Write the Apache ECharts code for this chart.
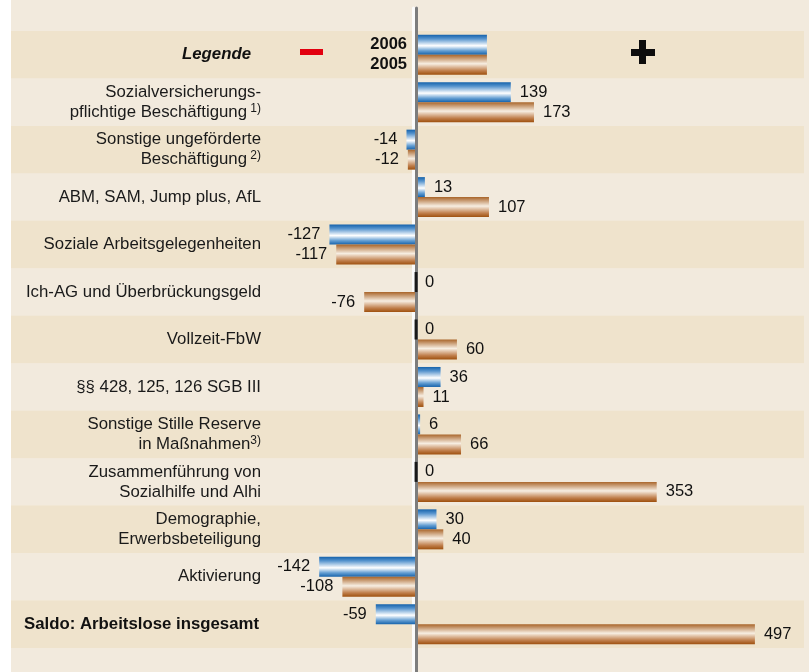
<!DOCTYPE html>
<html>
<head>
<meta charset="utf-8">
<script src="https://cdn.jsdelivr.net/npm/echarts@6/dist/echarts.min.js"></script>
<style>
  html, body { margin: 0; padding: 0; background: #fff; }
  #chart { position: absolute; left: 11px; top: 0; width: 798px; height: 672px; }
</style>
</head>
<body>
<div id="chart"></div>
<script>
// ==============================================================
// data
// ==============================================================
var categories = [
    'Legende',
    'Sozialversicherungs-\npflichtige Beschäftigung',
    'Sonstige ungeförderte\nBeschäftigung',
    'ABM, SAM, Jump plus, AfL',
    'Soziale Arbeitsgelegenheiten',
    'Ich-AG und Überbrückungsgeld',
    'Vollzeit-FbW',
    '§§ 428, 125, 126 SGB III',
    'Sonstige Stille Reserve\nin Maßnahmen',
    'Zusammenführung von\nSozialhilfe und Alhi',
    'Demographie,\nErwerbsbeteiligung',
    'Aktivierung',
    'Saldo: Arbeitslose insgesamt'
];
var footnotes = ['', ' 1)', ' 2)', '', '', '', '', '', '3)', '', '', '', ''];
var seriesNames = ['2006', '2005'];
var values2006 = [139, -14, 13, -127, 0, 0, 36, 6, 0, 30, -142, -59];
var values2005 = [173, -12, 107, -117, -76, 60, 11, 66, 353, 40, -108, 497];
var legendSwatch = 104;   // length of the sample bars in the legend row

var FONT = '"Liberation Sans", Arial, sans-serif';
var xMin = -594, xMax = 569;

var chart = echarts.init(document.getElementById('chart'));

var blueFill = new echarts.graphic.LinearGradient(0, 0, 0, 1, [
    {offset: 0, color: '#1562ab'},
    {offset: 0.2, color: '#5593cd'},
    {offset: 0.55, color: '#ffffff'},
    {offset: 0.8, color: '#659fd3'},
    {offset: 1, color: '#1562ab'}
]);
var copperFill = new echarts.graphic.LinearGradient(0, 0, 0, 1, [
    {offset: 0, color: '#a9652a'},
    {offset: 0.45, color: '#f7eee2'},
    {offset: 0.8, color: '#c07f4c'},
    {offset: 1, color: '#9e500e'}
]);

function barData(vals) {
    var out = [{value: legendSwatch, label: {position: 'left'}}];
    vals.forEach(function (v) {
        out.push({value: v, label: {position: v < 0 ? 'left' : 'right'}});
    });
    return out;
}

// black marks for zero values of 2006
var zeroMarks = [];
values2006.forEach(function (v, i) {
    if (v === 0) zeroMarks.push([0, i + 1]);
});

function valueLabel(p) {
    if (p.dataIndex === 0) return '{b|' + p.seriesName + '}';
    return p.value;
}

var labelStyle = {
    show: true,
    distance: 9,
    fontFamily: FONT,
    fontSize: 16.5,
    color: '#111',
    formatter: valueLabel,
    rich: {
        b: {fontFamily: FONT, fontSize: 16.5, fontWeight: 'bold', color: '#111'}
    }
};

option = {
    backgroundColor: '#f2eadd',
    animation: false,
    grid: [
        {left: 0, right: 5, top: 31, bottom: 24, outerBoundsMode: 'none', containLabel: false},
        {left: 0, right: 5, top: 8, bottom: 0, outerBoundsMode: 'none', containLabel: false},
        {left: 0, right: 5, top: 8, bottom: 0, outerBoundsMode: 'none', containLabel: false}
    ],
    xAxis: [
        {gridIndex: 0, type: 'value', min: xMin, max: xMax, show: false},
        {gridIndex: 1, type: 'value', min: xMin, max: xMax, show: false},
        {gridIndex: 2, type: 'value', min: xMin, max: xMax, show: false}
    ],
    yAxis: [
        {
            gridIndex: 0,
            type: 'category',
            inverse: true,
            position: 'left',
            data: categories,
            axisLine: {show: false, onZero: false},
            axisTick: {show: false},
            splitLine: {show: false},
            splitArea: {show: true, areaStyle: {color: ['#efe3cc', '#f2eadd']}},
            axisLabel: {
                inside: true,
                margin: 250,
                fontFamily: FONT,
                fontSize: 16.8,
                color: '#1a1a1a',
                lineHeight: 20,
                align: 'right',
                formatter: function (val, idx) {
                    if (idx === 0) return '{leg|' + val + '}';
                    if (idx === categories.length - 1) return '{saldo|' + val + '}';
                    var lines = val.split('\n');
                    var last = lines.length - 1;
                    lines = lines.map(function (l) { return '{t|' + l + '}'; });
                    if (footnotes[idx]) lines[last] += '{sup|' + footnotes[idx] + '}';
                    return lines.join('\n');
                },
                rich: {
                    t: {fontFamily: FONT, fontSize: 16.8, color: '#1a1a1a', lineHeight: 20},
                    sup: {fontFamily: FONT, fontSize: 12, color: '#1a1a1a', lineHeight: 6, verticalAlign: 'top'},
                    leg: {fontFamily: FONT, fontSize: 16.8, fontWeight: 'bold', fontStyle: 'italic', color: '#111', padding: [0, 10, 0, 0]},
                    saldo: {fontFamily: FONT, fontSize: 16.8, fontWeight: 'bold', color: '#111', width: 237, align: 'left'}
                }
            }
        },
        {
            // light edge of the zero line, behind the bars
            gridIndex: 1,
            type: 'category',
            data: [''],
            z: 1,
            axisLine: {show: true, onZero: true, lineStyle: {color: '#fbfbfb', width: 3, shadowColor: '#fbfbfb', shadowOffsetX: -3, shadowBlur: 0}},
            axisTick: {show: false},
            axisLabel: {show: false}
        },
        {
            // grey zero line, above the bars
            gridIndex: 2,
            type: 'category',
            data: [''],
            z: 5,
            axisLine: {show: true, onZero: true, lineStyle: {color: '#7d7d7d', width: 3}},
            axisTick: {show: false},
            axisLabel: {show: false}
        }
    ],
    series: [
        {
            name: seriesNames[0],
            type: 'bar',
            barWidth: 20,
            barGap: '0%',
            z: 2,
            itemStyle: {color: blueFill},
            label: labelStyle,
            data: barData(values2006)
        },
        {
            name: seriesNames[1],
            type: 'bar',
            barWidth: 20,
            barGap: '0%',
            z: 2,
            itemStyle: {color: copperFill},
            label: labelStyle,
            data: barData(values2005)
        },
        {
            name: 'zero',
            type: 'scatter',
            symbol: 'rect',
            symbolSize: [3, 20],
            symbolOffset: [0, -10],
            z: 10,
            itemStyle: {color: '#000'},
            data: zeroMarks
        }
    ],
    graphic: [
        // legend signs: minus (left) and plus (right)
        {type: 'rect', z: 100, left: 289, top: 49, shape: {width: 23, height: 6}, style: {fill: '#e2000f'}},
        {type: 'rect', z: 100, left: 620, top: 49, shape: {width: 24, height: 7}, style: {fill: '#0d0d0d'}},
        {type: 'rect', z: 100, left: 628, top: 40, shape: {width: 7, height: 24}, style: {fill: '#0d0d0d'}}
    ]
};

chart.setOption(option, true);
</script>
</body>
</html>
